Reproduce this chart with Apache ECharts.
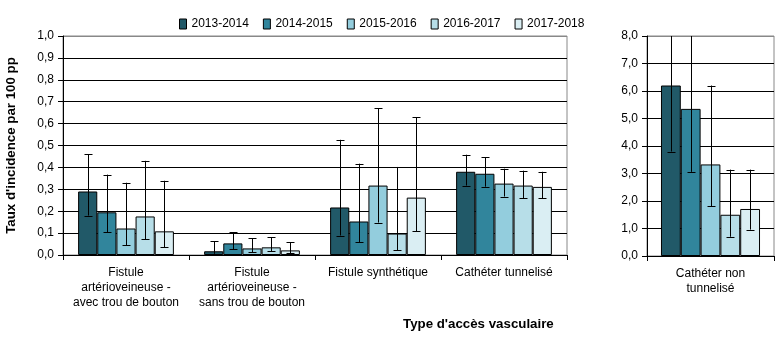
<!DOCTYPE html>
<html><head><meta charset="utf-8">
<script src="https://cdn.jsdelivr.net/npm/echarts@6/dist/echarts.min.js"></script>
<style>html,body{margin:0;padding:0;background:#fff}#c{width:782px;height:340px}</style>
</head><body><div id="c"></div>
<script>
const years = ['2013-2014','2014-2015','2015-2016','2016-2017','2017-2018'];
const colors = ['#215968','#31859C','#93CDDD','#B7DEE8','#DAEEF3'];
const catsLeft = ['Fistule\nartérioveineuse -\navec trou de bouton','Fistule\nartérioveineuse -\nsans trou de bouton','Fistule synthétique','Cathéter tunnelisé'];
const catsRight = ['Cathéter non\ntunnelisé'];
// values per year, per left category
const valLeft = [
  [0.29, 0.017, 0.217, 0.380],
  [0.195, 0.053, 0.153, 0.371],
  [0.121, 0.030, 0.317, 0.326],
  [0.176, 0.035, 0.098, 0.317],
  [0.108, 0.021, 0.262, 0.311]
];
const lowLeft = [
  [0.180, 0.005, 0.089, 0.317],
  [0.103, 0.026, 0.058, 0.312],
  [0.044, 0.012, 0.148, 0.267],
  [0.071, 0.017, 0.021, 0.258],
  [0.036, 0.008, 0.108, 0.258]
];
const highLeft = [
  [0.459, 0.062, 0.526, 0.458],
  [0.367, 0.103, 0.417, 0.447],
  [0.330, 0.076, 0.671, 0.394],
  [0.430, 0.080, 0.402, 0.385],
  [0.339, 0.058, 0.630, 0.380]
];
const valRight = [6.20, 5.35, 3.33, 1.50, 1.71];
const lowRight = [3.80, 3.06, 1.81, 0.70, 0.96];
const highRight = [8.9, 8.2, 6.20, 3.14, 3.14];
const yTicksLeft = {min:0, max:1, interval:0.1};
const yTicksRight = {min:0, max:8, interval:1};

const FONT = 'Liberation Sans';
const GAP_L = 0.24, GAP_R = 0.22;
const chart = echarts.init(document.getElementById('c'));
const fmt = v => v.toFixed(1).replace('.', ',');

function errSeries(xi, yi, data, gap, ymax) {
  return {
    type:'custom', xAxisIndex:xi, yAxisIndex:yi, z:10, silent:true,
    data: data,
    renderItem: function(params, api) {
      const cat = api.value(0), yr = api.value(1), lo = api.value(2), hi = api.value(3);
      const band = api.size([1,0])[0];
      const c = api.coord([cat, 0]);
      const bw = band*(1-gap)/5;
      const x = Math.round(c[0] - band*(1-gap)/2 + (yr+0.5)*bw) + 0.5;
      const top = api.coord([cat, ymax])[1];
      let yh = api.coord([cat, hi])[1];
      const clipped = yh < top;
      if (clipped) yh = top;
      const yl = api.coord([cat, lo])[1];
      const st = {stroke:'#000', lineWidth:1};
      const ch = [
        {type:'line', shape:{x1:x,y1:yh,x2:x,y2:yl}, style:st},
        {type:'line', shape:{x1:x-4,y1:Math.round(yl)+0.5,x2:x+4,y2:Math.round(yl)+0.5}, style:st}
      ];
      if (!clipped) ch.push({type:'line', shape:{x1:x-4,y1:Math.round(yh)+0.5,x2:x+4,y2:Math.round(yh)+0.5}, style:st});
      return {type:'group', children: ch};
    }
  };
}

const series = [];
years.forEach((y, i) => {
  series.push({name:y, type:'bar', xAxisIndex:0, yAxisIndex:0, data: valLeft[i], barGap:'0%', barCategoryGap:(GAP_L*100)+'%',
    itemStyle:{color:colors[i], borderColor:'#000', borderWidth:1}});
});
years.forEach((y, i) => {
  series.push({name:y, type:'bar', xAxisIndex:1, yAxisIndex:1, data: [valRight[i]], barGap:'0%', barCategoryGap:(GAP_R*100)+'%',
    itemStyle:{color:colors[i], borderColor:'#000', borderWidth:1}});
});
const errL = [], errR = [];
years.forEach((y, i) => {
  catsLeft.forEach((c, j) => errL.push([j, i, lowLeft[i][j], highLeft[i][j]]));
  errR.push([0, i, lowRight[i], highRight[i]]);
});
series.push(errSeries(0, 0, errL, GAP_L, yTicksLeft.max));
series.push(errSeries(1, 1, errR, GAP_R, yTicksRight.max));

const splitColorsL = Array.from({length:11}, (_, k) => k === 10 ? '#888' : '#000');
const splitColorsR = Array.from({length:9}, (_, k) => k === 8 ? '#888' : '#000');

const xCommon = {
  type:'category', boundaryGap:true,
  axisLine:{lineStyle:{color:'#000', width:1}},
  axisTick:{show:true, length:5, lineStyle:{color:'#000'}},
  axisLabel:{color:'#000', fontFamily:FONT, fontSize:12, lineHeight:15, margin:10, interval:0}
};
const yCommon = {
  type:'value',
  axisLine:{show:true, lineStyle:{color:'#000', width:1}},
  axisTick:{show:true, length:5, inside:false, lineStyle:{color:'#000'}},
  axisLabel:{color:'#000', fontFamily:FONT, fontSize:12, margin:9, formatter:fmt}
};

chart.setOption({
  animation:false,
  backgroundColor:'#fff',
  textStyle:{fontFamily:FONT},
  title:{
    text:"Type d'accès vasculaire", left:403, top:318, padding:0,
    textStyle:{fontFamily:FONT, fontSize:13.3, fontWeight:'bold', color:'#000'}
  },
  legend:{
    data: years, top:18, left:179, padding:0, itemGap:14, itemWidth:7, itemHeight:10,
    icon:'rect', textStyle:{color:'#000', fontFamily:FONT, fontSize:12},
    itemStyle:{borderColor:'#000', borderWidth:1}
  },
  grid:[
    {left:63, right:215, top:36, bottom:85, show:true, borderColor:'#888', borderWidth:1, containLabel:false, outerBoundsMode:'none'},
    {left:647, right:8, top:36, bottom:84, show:true, borderColor:'#888', borderWidth:1, containLabel:false, outerBoundsMode:'none'}
  ],
  xAxis:[
    Object.assign({gridIndex:0, data:catsLeft}, xCommon),
    Object.assign({gridIndex:1, data:catsRight}, xCommon)
  ],
  yAxis:[
    Object.assign({gridIndex:0, min:yTicksLeft.min, max:yTicksLeft.max, interval:yTicksLeft.interval,
      name:"Taux d'incidence par 100 pp", nameLocation:'middle', nameGap:25,
      nameTextStyle:{fontFamily:FONT, fontSize:13.3, fontWeight:'bold', color:'#000', padding:[0,0,20,0]},
      splitLine:{show:true, lineStyle:{color:splitColorsL, width:1}}}, yCommon),
    Object.assign({gridIndex:1, min:yTicksRight.min, max:yTicksRight.max, interval:yTicksRight.interval,
      splitLine:{show:true, lineStyle:{color:splitColorsR, width:1}}}, yCommon)
  ],
  series: series
});
</script></body></html>
